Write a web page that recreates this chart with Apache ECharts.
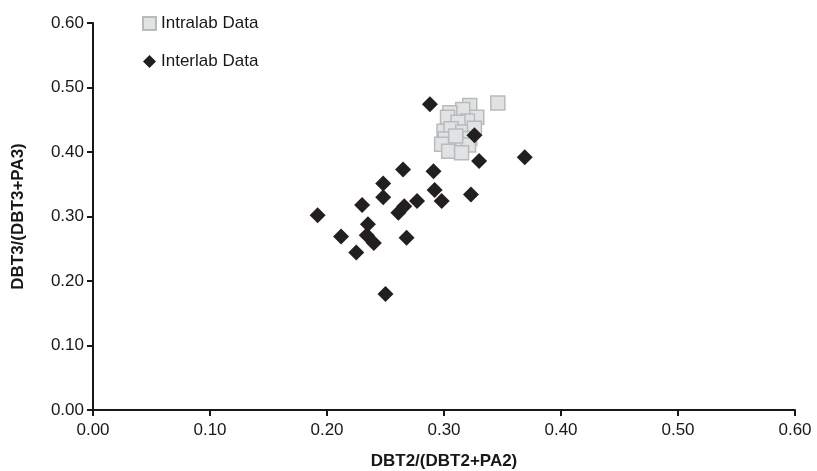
<!DOCTYPE html>
<html>
<head>
<meta charset="utf-8">
<script src="https://cdn.jsdelivr.net/npm/echarts@6/dist/echarts.min.js"></script>
<style>html,body{margin:0;padding:0;background:#fff}#c{width:817px;height:471px}</style>
</head>
<body>
<div id="c"></div>
<script>
const xTicks = ['0.00','0.10','0.20','0.30','0.40','0.50','0.60'];
const yTicks = ['0.00','0.10','0.20','0.30','0.40','0.50','0.60'];
const intralab = [
  [0.346,0.476],[0.322,0.472],[0.316,0.466],[0.305,0.461],[0.303,0.454],[0.328,0.454],
  [0.320,0.448],[0.312,0.446],[0.300,0.432],[0.306,0.436],[0.316,0.431],[0.326,0.437],
  [0.322,0.421],[0.301,0.420],[0.298,0.412],[0.310,0.414],[0.321,0.411],[0.304,0.401],
  [0.315,0.399],[0.310,0.425]
];
const interlab = [
  [0.192,0.302],[0.212,0.269],[0.225,0.244],[0.230,0.318],[0.235,0.288],[0.234,0.271],
  [0.240,0.259],[0.248,0.351],[0.248,0.330],[0.250,0.180],[0.261,0.306],[0.266,0.316],
  [0.265,0.373],[0.268,0.267],[0.277,0.324],[0.288,0.474],[0.291,0.370],[0.292,0.341],
  [0.298,0.324],[0.323,0.334],[0.326,0.426],[0.330,0.386],[0.369,0.392]
];
const chart = echarts.init(document.getElementById('c'));
const font = 'Liberation Sans, Arial, sans-serif';
const ink = '#1a1718';
chart.setOption({
  animation: false,
  grid: {left: 93, right: 22, top: 23, bottom: 61, containLabel: false, outerBoundsMode: 'none'},
  legend: {
    orient: 'vertical', left: 137, top: 10, itemGap: 21, itemWidth: 13, itemHeight: 13,
    textStyle: {fontFamily: font, fontSize: 17, color: ink},
    data: [
      {name: 'Intralab Data', icon: 'rect'},
      {name: 'Interlab Data', icon: 'diamond'}
    ]
  },
  xAxis: {
    type: 'value', min: 0, max: 0.6, interval: 0.1,
    name: 'DBT2/(DBT2+PA2)', nameLocation: 'middle', nameGap: 43,
    nameTextStyle: {fontFamily: font, fontSize: 17, fontWeight: 'bold', color: ink},
    axisLine: {show: true, lineStyle: {color: ink, width: 2}},
    axisTick: {show: true, length: 6, lineStyle: {color: ink, width: 2}},
    axisLabel: {fontFamily: font, fontSize: 17, color: ink, margin: 12,
      formatter: (v) => xTicks[Math.round(v * 10)]},
    splitLine: {show: false}
  },
  yAxis: {
    type: 'value', min: 0, max: 0.6, interval: 0.1,
    name: 'DBT3/(DBT3+PA3)', nameLocation: 'middle', nameGap: 66,
    nameTextStyle: {fontFamily: font, fontSize: 17, fontWeight: 'bold', color: ink},
    axisLine: {show: true, lineStyle: {color: ink, width: 2}},
    axisTick: {show: true, length: 6, lineStyle: {color: ink, width: 2}},
    axisLabel: {fontFamily: font, fontSize: 17, color: ink, margin: 9,
      formatter: (v) => yTicks[Math.round(v * 10)]},
    splitLine: {show: false}
  },
  series: [
    {
      name: 'Intralab Data', type: 'scatter', symbol: 'rect', symbolSize: 14,
      itemStyle: {color: '#e1e2e4', borderColor: '#b9babc', borderWidth: 1.5, opacity: 1},
      data: intralab
    },
    {
      name: 'Interlab Data', type: 'scatter', symbol: 'diamond', symbolSize: 16,
      itemStyle: {color: '#231f20', opacity: 1},
      data: interlab
    }
  ]
});
</script>
</body>
</html>
